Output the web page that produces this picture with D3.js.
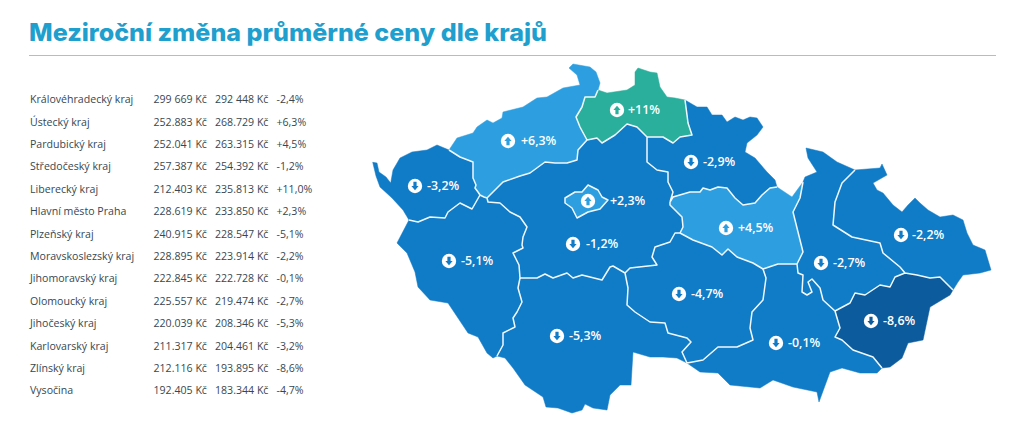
<!DOCTYPE html>
<html>
<head>
<meta charset="utf-8">
<script src="https://cdn.jsdelivr.net/npm/d3@7"></script>
<style>
html,body{margin:0;padding:0;background:#fff}
svg{display:block}
</style>
</head>
<body>
<script>
//data
const regions=["Královéhradecký kraj","Ústecký kraj","Pardubický kraj","Středočeský kraj","Liberecký kraj","Hlavní město Praha","Plzeňský kraj","Moravskoslezský kraj","Jihomoravský kraj","Olomoucký kraj","Jihočeský kraj","Karlovarský kraj","Zlínský kraj","Vysočina"]
const pricesPrev=["299 669 Kč","252.883 Kč","252.041 Kč","257.387 Kč","212.403 Kč","228.619 Kč","240.915 Kč","228.895 Kč","222.845 Kč","225.557 Kč","220.039 Kč","211.317 Kč","212.116 Kč","192.405 Kč"]
const pricesNow=["292 448 Kč","268.729 Kč","263.315 Kč","254.392 Kč","235.813 Kč","233.850 Kč","228.547 Kč","223.914 Kč","222.728 Kč","219.474 Kč","208.346 Kč","204.461 Kč","193.895 Kč","183.344 Kč"]
const changes=[-2.4,6.3,4.5,-1.2,11.0,2.3,-5.1,-2.2,-0.1,-2.7,-5.3,-3.2,-8.6,-4.7]
// the map says -2,9 for Královéhradecký, the table -2,4
const mapChanges=[-2.9,6.3,4.5,-1.2,11.0,2.3,-5.1,-2.2,-0.1,-2.7,-5.3,-3.2,-8.6,-4.7]

//region outlines, traced as shared arcs so the borders line up
const arcs={
outerK:[[409,220],[403,210],[392,198],[380,187],[376,176],[372.7,162.3],[377,163],[379,172],[386,177],[390.7,183],[393,170],[400,158],[412,152],[427,150],[437,145],[449,150]],
bKU:[[449,150],[460,157],[473,162],[473,178],[476,185],[475,188],[478,192],[480,195]],
bKP:[[480,195],[472,209],[460,203],[448,212],[445,218],[430,217],[418,222],[409,220]],
outerP:[[409,220],[397,243],[407,253],[415,272],[418,287],[430,300],[448,303],[458,318],[468,333],[478,337],[487,353],[493,358],[497,356]],
bPJ:[[497,356],[503,345],[503,333],[515,327],[513,318],[517,312],[522,302],[518,288],[520,278]],
bPS:[[520,278],[519,265],[513,253],[523,248],[522,245],[523,237],[527,227],[520,217],[510,212],[500,203],[488,202],[487,198]],
bUP:[[487,198],[484,197],[480,195]],
outerU:[[449,150],[457,138],[473,133],[477,127],[487,120],[493,123],[502,118],[503,112],[523,107],[537,98],[547,97],[563,88],[580,85],[577,75],[569,68],[573,64],[590,67],[596,72],[600,83],[598,90]],
bUL:[[598,90],[595,97],[585,97],[582,107],[576,117],[580,127],[587,140]],
bUS:[[587,140],[578,150],[577,160],[567,163],[555,163],[545,162],[530,173],[520,176],[503,182],[490,195],[487,198]],
outerL:[[598,90],[607,93],[627,90],[635,85],[635,72],[638,68],[650,72],[657,73],[660,87],[667,97],[675,98],[685,100]],
bLH:[[685,100],[687,115],[688,123],[692,135],[680,137],[673,143],[663,137],[647,137]],
bLS:[[647,137],[637,127],[627,124],[615,135],[602,143],[597,138],[587,140]],
outerH:[[685,100],[697,107],[707,107],[712,115],[722,115],[727,122],[735,117],[743,120],[750,117],[757,118],[763,127],[757,135],[747,143],[745,152],[755,158],[767,172],[775,180],[777,187]],
bHP:[[777,187],[770,188],[762,195],[755,203],[743,205],[735,198],[727,188],[718,187],[710,190],[703,188],[700,192],[690,192],[673,197],[670,202]],
bHS:[[670,202],[673,192],[668,182],[668,172],[657,170],[647,162],[647,137]],
outerPa:[[777,187],[792,197],[803,182]],
bPaO:[[803,182],[800,198],[793,212],[797,228],[800,240],[803,252],[797,264]],
bPaJ:[[797,264],[778,264],[763,269]],
bPaV:[[763,269],[753,263],[737,257],[728,249],[722,255],[712,247],[693,240],[680,233]],
bPaS:[[680,233],[683,227],[682,217],[670,205],[670,202]],
bSV:[[625,273],[630,268],[657,265],[652,257],[655,247],[670,242],[675,233],[680,233]],
bSJ:[[625,273],[613,266],[610,267],[602,280],[582,275],[573,278],[567,273],[553,278],[545,274],[537,278],[520,278]],
bJV:[[625,273],[628,288],[627,305],[635,312],[650,322],[665,323],[668,333],[687,338],[691,342],[682,352],[687,363]],
outerJ:[[497,356],[505,358],[513,368],[525,385],[543,397],[546,407],[558,408],[572,413],[582,410],[585,404],[593,408],[607,410],[610,395],[620,385],[631,385],[632,368],[633,352],[650,357],[663,357],[677,358],[687,363]],
outerJM:[[687,363],[700,372],[718,373],[730,385],[760,388],[773,380],[793,387],[817,392],[819,402],[830,372],[842,368],[860,373],[877,373],[882,368]],
bVJM:[[687,363],[703,360],[718,347],[737,347],[753,340],[750,328],[752,312],[763,300],[766,278],[763,269]],
bJMZ:[[882,368],[873,357],[853,350],[842,340],[835,337],[840,328],[835,311]],
bJMO:[[835,311],[823,300],[820,288],[812,279],[808,282],[812,292],[807,295],[802,292],[803,275],[798,273],[797,264]],
outerZ:[[882,368],[890,367],[902,358],[908,343],[923,340],[930,307],[950,295],[953,290]],
bZO:[[835,311],[850,303],[855,293],[865,295],[880,285],[890,287],[895,277],[905,273]],
bZM:[[905,273],[917,275],[930,278],[940,277],[953,290]],
outerO:[[803,182],[805,177],[817,172],[808,158],[806,148],[823,152],[837,162],[855,170]],
bOM:[[855,170],[842,183],[835,202],[833,225],[852,237],[880,243],[883,253],[900,267],[905,273]],
outerM:[[855,170],[880,168],[882,164],[887,175],[873,183],[877,190],[883,193],[893,205],[902,212],[908,205],[915,198],[920,203],[928,210],[940,217],[953,215],[963,220],[967,233],[973,245],[985,250],[991,270],[980,273],[963,275],[958,282],[953,290]]
}
const pragueRing=[[565,198],[575,192],[582,192],[588,185],[598,190],[602,197],[608,200],[600,209],[588,212],[577,218],[572,208],[565,203],[565,198]]

const regionArcs={
"Karlovarský kraj":["outerK","bKU","bKP"],
"Plzeňský kraj":["outerP","bPJ","bPS","bUP","bKP"],
"Ústecký kraj":["outerU","bUL","bUS","bUP","-bKU"],
"Liberecký kraj":["outerL","bLH","bLS","-bUL"],
"Královéhradecký kraj":["outerH","bHP","bHS","-bLH"],
"Pardubický kraj":["outerPa","bPaO","bPaJ","bPaV","bPaS","-bHP"],
"Středočeský kraj":["-bUS","-bLS","-bHS","-bPaS","-bSV","bSJ","bPS"],
"Vysočina":["bSV","-bPaV","-bVJM","-bJV"],
"Jihočeský kraj":["outerJ","-bJV","bSJ","-bPJ"],
"Jihomoravský kraj":["outerJM","bJMZ","bJMO","bPaJ","-bVJM"],
"Zlínský kraj":["outerZ","-bZM","-bZO","-bJMZ"],
"Olomoucký kraj":["outerO","bOM","-bZO","bJMO","-bPaO"],
"Moravskoslezský kraj":["outerM","-bZM","-bOM"]
}

//label spots on the map: icon x, icon y, text x
const labelSpots={
"Královéhradecký kraj":[691,162,703],"Ústecký kraj":[508,141,521],"Pardubický kraj":[726,228,738],
"Středočeský kraj":[573,244,586],"Liberecký kraj":[617,110,628],"Hlavní město Praha":[588,201,610],
"Plzeňský kraj":[449,261,461],"Moravskoslezský kraj":[901,235,912],"Jihomoravský kraj":[776,343,788],
"Olomoucký kraj":[821,263,833],"Jihočeský kraj":[557,336,569],"Karlovarský kraj":[415,186,427],
"Zlínský kraj":[871,321,883],"Vysočina":[679,294,691]
}

//constants
const w=1024
const h=427
const tableFont="'Open Sans',sans-serif"

//scales
const colorScale=d3.scaleThreshold().domain([-6,0,8]).range(["#0c5b9c","#107bc6","#2d9fe0","#2aaf9c"])
const rowScale=d3.scalePoint().domain(regions).range([99.5,390.7])
const fmt=v=>(v>0?"+":"")+v.toFixed(1).replace(".",",")+"%"
const fmtMap=v=>(v>0?"+":"")+(Number.isInteger(v)?v:v.toFixed(1).replace(".",","))+"%"

const svg=d3.select("body").append("svg").attr("width",w).attr("height",h)

//title and rule
svg.append("text")
    .attr("x",29).attr("y",41)
    .attr("font-family","Inter,sans-serif")
    .attr("font-weight",800)
    .attr("font-size",24)
    .attr("textLength",518)
    .attr("lengthAdjust","spacingAndGlyphs")
    .attr("fill","#1f9fce")
    .text("Meziroční změna průměrné ceny dle krajů")
svg.append("line")
    .attr("x1",29).attr("x2",996).attr("y1",55.5).attr("y2",55.5)
    .attr("stroke","#b9bcbd").attr("stroke-width",1)

//table
const columns=[
  {x:30,get:(d,i)=>d},
  {x:153.5,get:(d,i)=>pricesPrev[i]},
  {x:215,get:(d,i)=>pricesNow[i]},
  {x:276.5,get:(d,i)=>fmt(changes[i])}
]
const rows=svg.append("g").selectAll("g").data(regions).enter().append("g")
    .attr("transform",d=>"translate(0,"+rowScale(d)+")")
columns.forEach(c=>{
  rows.append("text")
      .attr("x",c.x)
      .attr("dy","0.35em")
      .attr("font-family",tableFont)
      .attr("font-size",10.6)
      .attr("fill","#38474f")
      .text(c.get)
})

//geometry
const joined=names=>{
  const out=[]
  names.forEach(n=>{
    const pts=n[0]=="-"?arcs[n.slice(1)].slice().reverse():arcs[n]
    out.push(...(out.length?pts.slice(1):pts))
  })
  return out
}
const features=regions.filter(r=>regionArcs[r]).map(r=>({
  type:"Feature",properties:{name:r},
  geometry:{type:"Polygon",coordinates:[joined(regionArcs[r])]}
}))
const prague={type:"Feature",properties:{name:"Hlavní město Praha"},geometry:{type:"Polygon",coordinates:[pragueRing]}}
const path=d3.geoPath(d3.geoIdentity())
const changeOf=name=>mapChanges[regions.indexOf(name)]

svg.append("g").selectAll("path").data(features).enter().append("path")
    .attr("d",path)
    .attr("fill",d=>colorScale(changeOf(d.properties.name)))
    .attr("stroke",d=>colorScale(changeOf(d.properties.name)))
    .attr("stroke-width",0.5)

const inner=Object.keys(arcs).filter(k=>k[0]=="b").map(k=>arcs[k])
svg.append("path")
    .datum({type:"MultiLineString",coordinates:inner})
    .attr("d",path)
    .attr("fill","none")
    .attr("stroke","#f2f9fc")
    .attr("stroke-width",1.5)
    .attr("stroke-linejoin","round")

svg.append("path")
    .datum(prague)
    .attr("d",path)
    .attr("fill",colorScale(changeOf("Hlavní město Praha")))
    .attr("stroke","#f2f9fc")
    .attr("stroke-width",1.5)
    .attr("stroke-linejoin","round")

//labels
const labels=svg.append("g").selectAll("g").data(regions).enter().append("g")
labels.append("circle")
    .attr("cx",d=>labelSpots[d][0])
    .attr("cy",d=>labelSpots[d][1])
    .attr("r",7.2)
    .attr("fill","#fff")
labels.append("path")
    .attr("d","M-1.6,-4.2H1.6V0H3.6L0,4.2L-3.6,0H-1.6Z")
    .attr("transform",d=>"translate("+labelSpots[d][0]+","+labelSpots[d][1]+")"+(changeOf(d)>0?" rotate(180)":""))
    .attr("fill",d=>colorScale(changeOf(d)))
labels.append("text")
    .attr("x",d=>labelSpots[d][2])
    .attr("y",d=>labelSpots[d][1])
    .attr("dy","0.35em")
    .attr("font-family",tableFont)
    .attr("font-weight",600)
    .attr("font-size",12.4)
    .attr("fill","#fff")
    .text(d=>fmtMap(changeOf(d)))
</script>
</body>
</html>
